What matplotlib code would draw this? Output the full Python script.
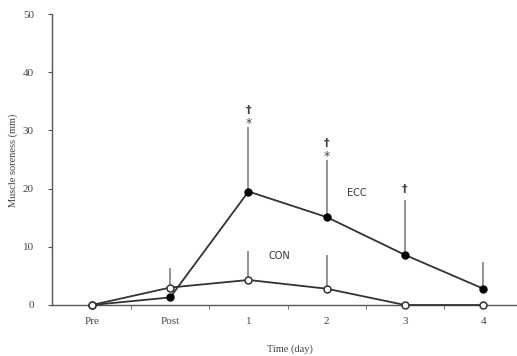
import matplotlib.pyplot as plt

# data
time_labels = ["Pre", "Post", "1", "2", "3", "4"]
ecc_mean = [0.0, 1.3, 19.5, 15.1, 8.6, 2.8]
ecc_upper = [0.0, 0.0, 30.6, 24.9, 18.0, 7.4]
con_mean = [0.0, 3.0, 4.3, 2.8, 0.0, 0.0]
con_upper = [0.0, 6.3, 9.3, 8.6, 0.0, 0.0]
# significance marks above the ECC bars
star_idx = [2, 3]
dagger_idx = [2, 3, 4]

x = list(range(len(time_labels)))
grey = "#555555"

fig = plt.figure(figsize=(5.17, 3.56), dpi=100)
ax = fig.add_axes([52 / 517, 51 / 356, 1 - 52 / 517, 291 / 356])

# upper-only error bars
ecc_err = [max(u - m, 0) for m, u in zip(ecc_mean, ecc_upper)]
con_err = [max(u - m, 0) for m, u in zip(con_mean, con_upper)]
ax.errorbar(x, ecc_mean, yerr=[[0] * len(x), ecc_err], fmt="none",
            ecolor="#777777", elinewidth=1.1, capsize=0, zorder=1)
ax.errorbar(x, con_mean, yerr=[[0] * len(x), con_err], fmt="none",
            ecolor="#777777", elinewidth=1.1, capsize=0, zorder=1)

ax.plot(x, ecc_mean, color="#333333", lw=1.3, marker="o", ms=5,
        mfc="black", mec="black", zorder=3, clip_on=False)
ax.plot(x, con_mean, color="#333333", lw=1.3, marker="o", ms=5,
        mfc="white", mec="#333333", mew=1.1, zorder=4, clip_on=False)

for i in star_idx:
    ax.text(x[i], ecc_upper[i] + 0.6, "*", ha="center", va="center",
            fontsize=9, color="#444444", family="DejaVu Sans")
for i in dagger_idx:
    off = 2.9 if i in star_idx else 1.9
    ax.text(x[i], ecc_upper[i] + off, "\u2020", ha="center", va="center",
            fontsize=8, color="#444444", family="DejaVu Sans",
            fontweight="bold")

ax.text(3.39, 19.2, "ECC", fontsize=7, color="#333333", family="DejaVu Sans",
        ha="center", va="center")
ax.text(2.40, 8.4, "CON", fontsize=7, color="#333333", family="DejaVu Sans",
        ha="center", va="center")

ax.set_xlim(-0.51, 5.43)
ax.set_ylim(0, 50)
ax.set_yticks([0, 10, 20, 30, 40, 50])
ax.set_xticks(x)
ax.set_xticklabels(time_labels)
ax.set_xticks([v + 0.5 for v in x[:-1]], minor=True)
ax.tick_params(axis="x", which="major", length=0, pad=9)
ax.tick_params(axis="x", which="minor", length=3, color=grey, direction="out")
ax.tick_params(axis="y", length=3, color=grey, direction="out", pad=10)

for lab in ax.get_xticklabels() + ax.get_yticklabels():
    lab.set_family("Liberation Serif")
    lab.set_fontsize(8)
    lab.set_color("#444444")

for s in ["top", "right"]:
    ax.spines[s].set_visible(False)
for s in ["left", "bottom"]:
    ax.spines[s].set_color(grey)
    ax.spines[s].set_linewidth(1.0)

fig.text(13 / 517, 1 - 160 / 356, "Muscle soreness (mm)", rotation=90,
         ha="center", va="center", fontsize=7.5, color="#444444",
         family="Liberation Serif")
fig.text(290 / 517, 1 - 349 / 356, "Time (day)", ha="center", va="center",
         fontsize=7.5, color="#444444", family="Liberation Serif")

fig.savefig("out.png", dpi=100)
